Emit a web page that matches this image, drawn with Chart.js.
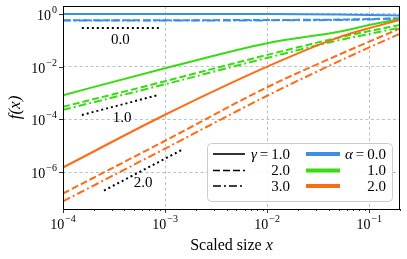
<!DOCTYPE html>
<html>
<head>
<meta charset="utf-8">
<script src="https://cdn.jsdelivr.net/npm/chart.js@4.4.1/dist/chart.umd.min.js"></script>
<style>
  html, body { margin: 0; padding: 0; background: #fff; }
</style>
</head>
<body>
<canvas id="myChart" width="407" height="259"></canvas>
<script>
// scaled sizes where the curves were read
const sizes = [1e-4, 1e-3, 1e-2, 0.05, 0.1, 0.2];

// alpha = 0.0 (blue)
const blueG1 = [1.0, 1.0, 0.99, 0.95, 0.92, 0.87];
const blueG2 = [0.58, 0.58, 0.59, 0.61, 0.64, 0.68];
const blueG3 = [0.56, 0.56, 0.57, 0.59, 0.62, 0.67];
// alpha = 1.0 (green)
const greenG1 = [8.3e-4, 8.7e-3, 7.8e-2, 0.21, 0.38, 0.65];
const greenG2 = [3.0e-4, 2.8e-3, 2.8e-2, 0.126, 0.224, 0.38];
const greenG3 = [2.3e-4, 2.15e-3, 2.15e-2, 0.10, 0.174, 0.30];
// alpha = 2.0 (orange)
const orangeG1 = [1.5e-6, 1.5e-4, 1.0e-2, 0.129, 0.29, 0.59];
const orangeG2 = [1.55e-7, 1.55e-5, 1.66e-3, 2.8e-2, 8.9e-2, 0.28];
const orangeG3 = [7.8e-8, 7.8e-6, 7.9e-4, 1.58e-2, 5.4e-2, 0.178];

// slope guides (dotted)
const guide0X = [1.53e-4, 9.0e-4];
const guide0Y = [0.29, 0.29];
const guide1X = [1.53e-4, 8.5e-4];
const guide1Y = [1.48e-4, 8.3e-4];
const guide2X = [2.52e-4, 1.5e-3];
const guide2Y = [2.0e-7, 7.4e-6];
const guideLabels = ["0.0", "1.0", "2.0"];
const guideLabelX = [10 ** -3.437, 10 ** -3.422, 10 ** -3.216];
const guideLabelY = [10 ** -0.98, 10 ** -3.935, 10 ** -6.407];

const xTicks = [1e-4, 1e-3, 1e-2, 1e-1];
const yTicks = [1, 1e-2, 1e-4, 1e-6];
const gammaLabels = ["1.0", "2.0", "3.0"];
const alphaLabels = ["0.0", "1.0", "2.0"];

const BLUE = "#3d8ee6";
const GREEN = "#38dc12";
const ORANGE = "#ff6a14";
const dashes = [[], [7, 3], [8, 3, 2, 3]];
const SERIF = "'Liberation Serif', 'DejaVu Serif', serif";

function pts(xs, ys) {
  return xs.map((x, i) => ({ x: x, y: ys[i] }));
}

function series(ys, color, g, order) {
  return {
    data: pts(sizes, ys),
    borderColor: color,
    borderWidth: 2,
    borderDash: dashes[g],
    pointRadius: 0,
    cubicInterpolationMode: "monotone",
    order: order,
  };
}

function guide(xs, ys) {
  return {
    data: pts(xs, ys),
    borderColor: "#000",
    borderWidth: 2,
    borderDash: [2, 3],
    pointRadius: 0,
    order: 0,
  };
}

function supLabel(ctx, base, exp, x, y, align) {
  ctx.font = "14px " + SERIF;
  const wb = ctx.measureText(base).width;
  ctx.font = "10px " + SERIF;
  const we = ctx.measureText(exp).width;
  const w = wb + we + 1;
  let x0 = align === "right" ? x - w : x - w / 2;
  ctx.textAlign = "left";
  ctx.textBaseline = "alphabetic";
  ctx.font = "14px " + SERIF;
  ctx.fillText(base, x0, y);
  ctx.font = "10px " + SERIF;
  ctx.fillText(exp, x0 + wb + 1, y - 7);
}

function mathLabel(ctx, sym, val, xr, y) {
  ctx.font = "15px " + SERIF;
  ctx.textAlign = "right";
  ctx.fillText(val, xr, y);
  const wv = ctx.measureText(val).width;
  const we = ctx.measureText("=").width;
  ctx.fillText("=", xr - wv - 3, y);
  ctx.font = "italic 15px " + SERIF;
  ctx.fillText(sym, xr - wv - we - 6, y);
}

const decor = {
  id: "decor",
  afterDraw(chart) {
    const ctx = chart.ctx;
    const { left, right, top, bottom } = chart.chartArea;
    const xs = chart.scales.x;
    const ys = chart.scales.y;
    ctx.save();
    ctx.fillStyle = "#000";
    ctx.strokeStyle = "#000";

    // frame
    ctx.lineWidth = 1;
    ctx.strokeRect(Math.round(left) + 0.5, Math.round(top) + 0.5,
      Math.round(right - left) - 1, Math.round(bottom - top));

    // tick marks
    ctx.lineWidth = 0.8;
    ctx.beginPath();
    xTicks.forEach(v => {
      const px = Math.round(xs.getPixelForValue(v)) + 0.5;
      ctx.moveTo(px, bottom); ctx.lineTo(px, bottom + 4);
      for (let k = 2; k <= 9; k++) {
        const m = v * k;
        if (m > xs.max) break;
        const pm = Math.round(xs.getPixelForValue(m)) + 0.5;
        ctx.moveTo(pm, bottom); ctx.lineTo(pm, bottom + 2);
      }
    });
    yTicks.forEach(v => {
      const py = Math.round(ys.getPixelForValue(v)) + 0.5;
      ctx.moveTo(left, py); ctx.lineTo(left - 4, py);
    });
    ctx.stroke();

    // tick labels
    xTicks.forEach(v => {
      const e = Math.round(Math.log10(v));
      supLabel(ctx, "10", "\u2212" + Math.abs(e), xs.getPixelForValue(v), bottom + 20, "center");
    });
    yTicks.forEach(v => {
      const e = Math.round(Math.log10(v));
      const exp = e === 0 ? "0" : "\u2212" + Math.abs(e);
      supLabel(ctx, "10", exp, left - 6, ys.getPixelForValue(v) + 6, "right");
    });

    // axis titles
    ctx.textBaseline = "alphabetic";
    ctx.textAlign = "left";
    ctx.font = "16px " + SERIF;
    const t1 = "Scaled size ";
    const w1 = ctx.measureText(t1).width;
    ctx.font = "italic 16px " + SERIF;
    const w2 = ctx.measureText("x").width;
    const cx = (left + right) / 2;
    ctx.font = "16px " + SERIF;
    ctx.fillText(t1, cx - (w1 + w2) / 2, 250);
    ctx.font = "italic 16px " + SERIF;
    ctx.fillText("x", cx - (w1 + w2) / 2 + w1, 250);

    ctx.save();
    ctx.translate(20, (top + bottom) / 2);
    ctx.rotate(-Math.PI / 2);
    ctx.font = "italic 17px " + SERIF;
    ctx.textAlign = "center";
    ctx.fillText("f(x)", 0, 0);
    ctx.restore();

    // slope labels
    ctx.font = "15px " + SERIF;
    ctx.textAlign = "center";
    ctx.textBaseline = "middle";
    guideLabels.forEach((t, i) => {
      ctx.fillText(t, xs.getPixelForValue(guideLabelX[i]), ys.getPixelForValue(guideLabelY[i]));
    });

    // legend
    const bx = 207, by = 143, bw = 185, bh = 58, r = 4;
    ctx.beginPath();
    ctx.roundRect(bx + 0.5, by + 0.5, bw, bh, r);
    ctx.fillStyle = "rgba(255,255,255,0.85)";
    ctx.fill();
    ctx.strokeStyle = "#cccccc";
    ctx.lineWidth = 1;
    ctx.stroke();

    const rows = [154, 170.5, 186];
    const colors = [BLUE, GREEN, ORANGE];
    ctx.textBaseline = "middle";
    rows.forEach((ry, i) => {
      // gamma column
      ctx.strokeStyle = "#000";
      ctx.lineWidth = 1.6;
      ctx.setLineDash(dashes[i]);
      ctx.beginPath();
      ctx.moveTo(213, ry); ctx.lineTo(245, ry);
      ctx.stroke();
      // alpha column
      ctx.setLineDash([]);
      ctx.strokeStyle = colors[i];
      ctx.lineWidth = 4;
      ctx.beginPath();
      ctx.moveTo(306, ry); ctx.lineTo(340, ry);
      ctx.stroke();

      ctx.fillStyle = "#000";
      if (i === 0) {
        mathLabel(ctx, "\u03b3", gammaLabels[0], 290, ry + 1);
        mathLabel(ctx, "\u03b1", alphaLabels[0], 386, ry + 1);
      } else {
        ctx.font = "15px " + SERIF;
        ctx.textAlign = "right";
        ctx.fillText(gammaLabels[i], 290, ry + 1);
        ctx.fillText(alphaLabels[i], 386, ry + 1);
      }
    });
    ctx.restore();
  },
};

const ctx = document.getElementById("myChart");

new Chart(ctx, {
  type: "line",
  data: {
    datasets: [
      series(blueG1, BLUE, 0, 3),
      series(blueG2, BLUE, 1, 3),
      series(blueG3, BLUE, 2, 3),
      series(greenG1, GREEN, 0, 2),
      series(greenG2, GREEN, 1, 2),
      series(greenG3, GREEN, 2, 2),
      series(orangeG1, ORANGE, 0, 1),
      series(orangeG2, ORANGE, 1, 1),
      series(orangeG3, ORANGE, 2, 1),
      guide(guide0X, guide0Y),
      guide(guide1X, guide1Y),
      guide(guide2X, guide2Y),
    ],
  },
  options: {
    responsive: false,
    devicePixelRatio: 1,
    animation: false,
    layout: { padding: { left: 63, right: 7, top: 6, bottom: 50 } },
    plugins: { legend: { display: false }, tooltip: { enabled: false } },
    scales: {
      x: {
        type: "logarithmic",
        min: 1e-4,
        max: 0.2,
        afterBuildTicks: s => { s.ticks = xTicks.map(v => ({ value: v })); },
        ticks: { display: false },
        grid: { color: "#b0b0b0", lineWidth: 0.8, drawTicks: false },
        border: { display: false, dash: [3, 2.5] },
      },
      y: {
        type: "logarithmic",
        min: 4e-8,
        max: 2,
        afterBuildTicks: s => { s.ticks = yTicks.map(v => ({ value: v })); },
        ticks: { display: false },
        grid: { color: "#b0b0b0", lineWidth: 0.8, drawTicks: false },
        border: { display: false, dash: [3, 2.5] },
      },
    },
  },
  plugins: [decor],
});
</script>
</body>
</html>
